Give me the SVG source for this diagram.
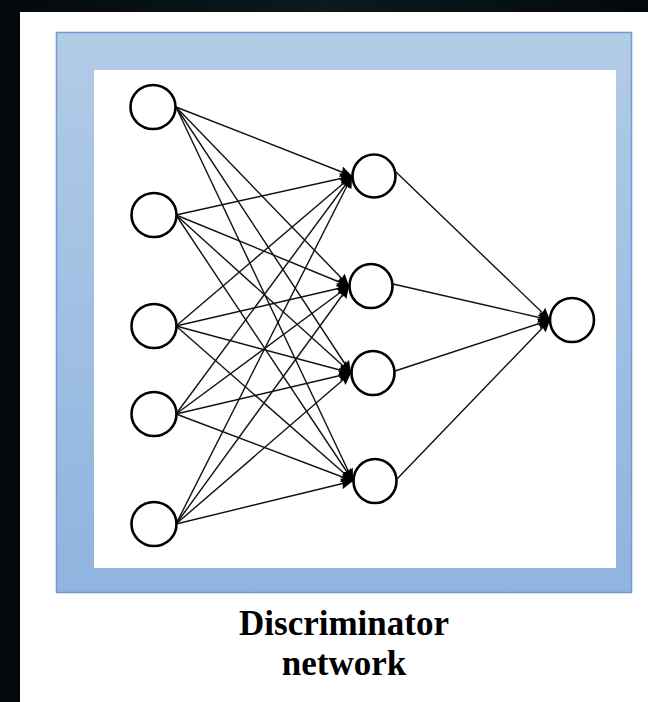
<svg xmlns="http://www.w3.org/2000/svg" width="648" height="702" viewBox="0 0 648 702">
  <defs>
    <linearGradient id="bg" x1="0" y1="0" x2="1" y2="0">
      <stop offset="0" stop-color="#03090d"/>
      <stop offset="0.5" stop-color="#0a1a1f"/>
      <stop offset="1" stop-color="#03090d"/>
    </linearGradient>
    <linearGradient id="frameFill" x1="0" y1="0" x2="0" y2="1">
      <stop offset="0" stop-color="#b2cbe7"/>
      <stop offset="1" stop-color="#8fb4df"/>
    </linearGradient>
    <marker id="arrow" markerUnits="userSpaceOnUse" markerWidth="13" markerHeight="12" refX="12" refY="6" orient="auto">
      <path d="M0,0.5 L12,6 L0,11.5 L1.5,6 z" fill="#000"/>
    </marker>
    <style>
      .node { fill: #fff; stroke: #000; stroke-width: 2.6; }
      .edge { stroke: #111; stroke-width: 1.4; fill: none; marker-end: url(#arrow); }
      .caption { font-family: "Liberation Serif", "Times New Roman", serif; font-weight: bold; font-size: 35px; fill: #000; text-anchor: middle; }
    </style>
  </defs>

  <!-- page backdrop -->
  <rect x="0" y="0" width="648" height="702" fill="url(#bg)"/>
  <rect x="20" y="12" width="628" height="690" fill="#fff"/>

  <!-- panel frame -->
  <rect x="56.5" y="32.5" width="575" height="560" fill="url(#frameFill)" stroke="#6f9dd3" stroke-width="1.5"/>
  <rect x="94" y="70" width="522" height="498" fill="#fff"/>

  <!-- connections -->
  <g id="connectors">
    <!-- input layer to hidden layer -->
    <line class="edge" x1="176" y1="107" x2="352" y2="176"/>
    <line class="edge" x1="176" y1="107" x2="349" y2="286"/>
    <line class="edge" x1="176" y1="107" x2="351" y2="373"/>
    <line class="edge" x1="176" y1="107" x2="353" y2="481"/>
    <line class="edge" x1="176" y1="215" x2="352" y2="176"/>
    <line class="edge" x1="176" y1="215" x2="349" y2="286"/>
    <line class="edge" x1="176" y1="215" x2="351" y2="373"/>
    <line class="edge" x1="176" y1="215" x2="353" y2="481"/>
    <line class="edge" x1="176" y1="326" x2="352" y2="176"/>
    <line class="edge" x1="176" y1="326" x2="349" y2="286"/>
    <line class="edge" x1="176" y1="326" x2="351" y2="373"/>
    <line class="edge" x1="176" y1="326" x2="353" y2="481"/>
    <line class="edge" x1="176" y1="414" x2="352" y2="176"/>
    <line class="edge" x1="176" y1="414" x2="349" y2="286"/>
    <line class="edge" x1="176" y1="414" x2="351" y2="373"/>
    <line class="edge" x1="176" y1="414" x2="353" y2="481"/>
    <line class="edge" x1="176" y1="524" x2="352" y2="176"/>
    <line class="edge" x1="176" y1="524" x2="349" y2="286"/>
    <line class="edge" x1="176" y1="524" x2="351" y2="373"/>
    <line class="edge" x1="176" y1="524" x2="353" y2="481"/>
    <!-- hidden layer to output -->
    <line class="edge" x1="396" y1="172" x2="550" y2="320"/>
    <line class="edge" x1="393" y1="284" x2="550" y2="320"/>
    <line class="edge" x1="395" y1="371" x2="550" y2="320"/>
    <line class="edge" x1="397" y1="479" x2="550" y2="320"/>
  </g>

  <!-- input layer -->
  <g id="in1"><ellipse class="node" cx="153" cy="107" rx="22.5" ry="22"/></g>
  <g id="in2"><ellipse class="node" cx="154" cy="215" rx="22.5" ry="22"/></g>
  <g id="in3"><ellipse class="node" cx="154" cy="326" rx="22.5" ry="22"/></g>
  <g id="in4"><ellipse class="node" cx="154" cy="414" rx="22.5" ry="22"/></g>
  <g id="in5"><ellipse class="node" cx="154" cy="524" rx="22.5" ry="22"/></g>

  <!-- hidden layer -->
  <g id="h1"><ellipse class="node" cx="374" cy="176" rx="21.5" ry="21.5"/></g>
  <g id="h2"><ellipse class="node" cx="371" cy="286" rx="21.5" ry="22"/></g>
  <g id="h3"><ellipse class="node" cx="373" cy="373" rx="21.5" ry="22"/></g>
  <g id="h4"><ellipse class="node" cx="375" cy="481" rx="21.5" ry="22"/></g>

  <!-- output node -->
  <g id="out"><ellipse class="node" cx="572" cy="320" rx="22" ry="22"/></g>

  <!-- caption -->
  <g id="caption">
    <text class="caption" x="344" y="635">Discriminator</text>
    <text class="caption" x="344" y="675">network</text>
  </g>
</svg>
